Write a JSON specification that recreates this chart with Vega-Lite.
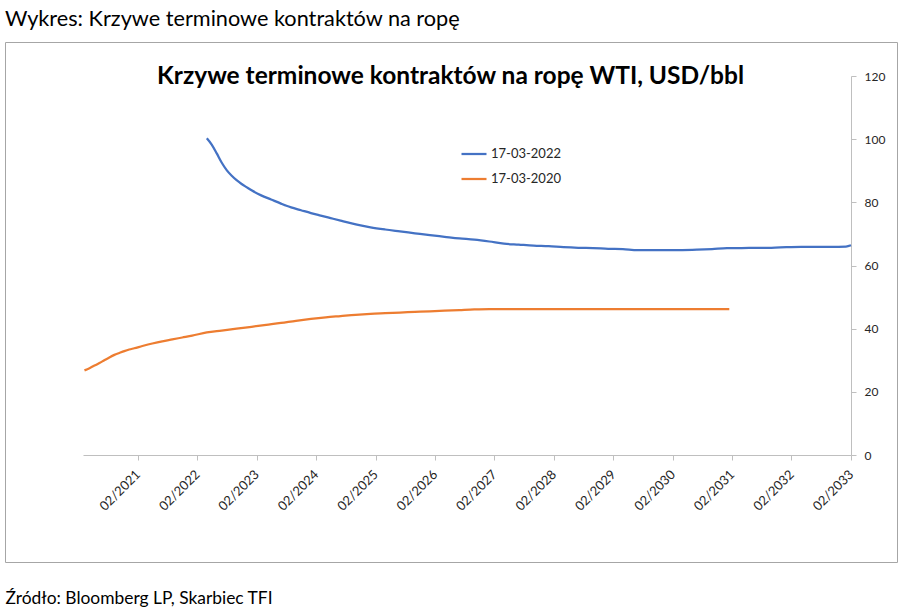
{
  "$schema": "https://vega.github.io/schema/vega-lite/v6.json",
  "autosize": {"type": "none"},
  "width": 892,
  "height": 520,
  "padding": {"left": 5, "top": 42, "right": 12, "bottom": 51},
  "background": "white",
  "title": {
    "text": "Wykres: Krzywe terminowe kontraktów na ropę",
    "anchor": "start",
    "frame": "group",
    "font": "Lato",
    "fontSize": 21.7,
    "fontWeight": "normal",
    "color": "#000000",
    "offset": 11
  },
  "config": {
    "view": {"stroke": "#a6a6a6", "strokeWidth": 1},
    "font": "Lato"
  },
  "data": {
    "values": [
      {"series": "17-03-2022", "date": "2022-04-01", "price": 100.3},
      {"series": "17-03-2022", "date": "2022-05-01", "price": 98.3},
      {"series": "17-03-2022", "date": "2022-06-01", "price": 95.5},
      {"series": "17-03-2022", "date": "2022-07-01", "price": 92.6},
      {"series": "17-03-2022", "date": "2022-08-01", "price": 90.2},
      {"series": "17-03-2022", "date": "2022-09-01", "price": 88.4},
      {"series": "17-03-2022", "date": "2022-10-01", "price": 87.0},
      {"series": "17-03-2022", "date": "2022-11-01", "price": 85.8},
      {"series": "17-03-2022", "date": "2022-12-01", "price": 84.8},
      {"series": "17-03-2022", "date": "2023-01-01", "price": 83.8},
      {"series": "17-03-2022", "date": "2023-03-01", "price": 82.2},
      {"series": "17-03-2022", "date": "2023-05-01", "price": 80.9},
      {"series": "17-03-2022", "date": "2023-07-01", "price": 79.6},
      {"series": "17-03-2022", "date": "2023-09-01", "price": 78.4},
      {"series": "17-03-2022", "date": "2023-11-01", "price": 77.5},
      {"series": "17-03-2022", "date": "2024-01-01", "price": 76.6},
      {"series": "17-03-2022", "date": "2024-03-01", "price": 75.8},
      {"series": "17-03-2022", "date": "2024-05-01", "price": 75.0},
      {"series": "17-03-2022", "date": "2024-07-01", "price": 74.2},
      {"series": "17-03-2022", "date": "2024-09-01", "price": 73.4},
      {"series": "17-03-2022", "date": "2024-11-01", "price": 72.7},
      {"series": "17-03-2022", "date": "2025-01-01", "price": 72.1},
      {"series": "17-03-2022", "date": "2025-04-01", "price": 71.4},
      {"series": "17-03-2022", "date": "2025-07-01", "price": 70.8},
      {"series": "17-03-2022", "date": "2025-10-01", "price": 70.2},
      {"series": "17-03-2022", "date": "2026-01-01", "price": 69.6},
      {"series": "17-03-2022", "date": "2026-04-01", "price": 69.1},
      {"series": "17-03-2022", "date": "2026-07-01", "price": 68.6},
      {"series": "17-03-2022", "date": "2026-10-01", "price": 68.2},
      {"series": "17-03-2022", "date": "2027-01-01", "price": 67.6},
      {"series": "17-03-2022", "date": "2027-04-01", "price": 66.9},
      {"series": "17-03-2022", "date": "2027-07-01", "price": 66.6},
      {"series": "17-03-2022", "date": "2027-10-01", "price": 66.3},
      {"series": "17-03-2022", "date": "2028-01-01", "price": 66.1},
      {"series": "17-03-2022", "date": "2028-04-01", "price": 65.8},
      {"series": "17-03-2022", "date": "2028-07-01", "price": 65.6},
      {"series": "17-03-2022", "date": "2028-10-01", "price": 65.5},
      {"series": "17-03-2022", "date": "2029-01-01", "price": 65.3},
      {"series": "17-03-2022", "date": "2029-04-01", "price": 65.2},
      {"series": "17-03-2022", "date": "2029-07-01", "price": 64.9},
      {"series": "17-03-2022", "date": "2029-10-01", "price": 64.9},
      {"series": "17-03-2022", "date": "2030-01-01", "price": 64.9},
      {"series": "17-03-2022", "date": "2030-04-01", "price": 64.9},
      {"series": "17-03-2022", "date": "2030-07-01", "price": 65.0},
      {"series": "17-03-2022", "date": "2030-10-01", "price": 65.2},
      {"series": "17-03-2022", "date": "2031-01-01", "price": 65.5},
      {"series": "17-03-2022", "date": "2031-04-01", "price": 65.5},
      {"series": "17-03-2022", "date": "2031-07-01", "price": 65.6},
      {"series": "17-03-2022", "date": "2031-10-01", "price": 65.6},
      {"series": "17-03-2022", "date": "2032-01-01", "price": 65.8},
      {"series": "17-03-2022", "date": "2032-04-01", "price": 65.9},
      {"series": "17-03-2022", "date": "2032-07-01", "price": 65.9},
      {"series": "17-03-2022", "date": "2032-10-01", "price": 65.9},
      {"series": "17-03-2022", "date": "2033-01-01", "price": 66.0},
      {"series": "17-03-2022", "date": "2033-02-01", "price": 66.4},
      {"series": "17-03-2020", "date": "2020-03-10", "price": 26.8},
      {"series": "17-03-2020", "date": "2020-04-10", "price": 27.5},
      {"series": "17-03-2020", "date": "2020-05-10", "price": 28.3},
      {"series": "17-03-2020", "date": "2020-06-10", "price": 29.1},
      {"series": "17-03-2020", "date": "2020-07-10", "price": 30.0},
      {"series": "17-03-2020", "date": "2020-08-10", "price": 30.9},
      {"series": "17-03-2020", "date": "2020-09-10", "price": 31.7},
      {"series": "17-03-2020", "date": "2020-10-10", "price": 32.3},
      {"series": "17-03-2020", "date": "2020-11-10", "price": 32.9},
      {"series": "17-03-2020", "date": "2020-12-10", "price": 33.4},
      {"series": "17-03-2020", "date": "2021-01-10", "price": 33.8},
      {"series": "17-03-2020", "date": "2021-03-01", "price": 34.5},
      {"series": "17-03-2020", "date": "2021-05-01", "price": 35.3},
      {"series": "17-03-2020", "date": "2021-07-01", "price": 36.0},
      {"series": "17-03-2020", "date": "2021-09-01", "price": 36.6},
      {"series": "17-03-2020", "date": "2021-11-01", "price": 37.2},
      {"series": "17-03-2020", "date": "2022-01-01", "price": 37.8},
      {"series": "17-03-2020", "date": "2022-04-01", "price": 38.8},
      {"series": "17-03-2020", "date": "2022-07-01", "price": 39.4},
      {"series": "17-03-2020", "date": "2022-10-01", "price": 40.0},
      {"series": "17-03-2020", "date": "2023-01-01", "price": 40.6},
      {"series": "17-03-2020", "date": "2023-04-01", "price": 41.2},
      {"series": "17-03-2020", "date": "2023-07-01", "price": 41.8},
      {"series": "17-03-2020", "date": "2023-10-01", "price": 42.5},
      {"series": "17-03-2020", "date": "2024-01-01", "price": 43.1},
      {"series": "17-03-2020", "date": "2024-04-01", "price": 43.6},
      {"series": "17-03-2020", "date": "2024-07-01", "price": 44.0},
      {"series": "17-03-2020", "date": "2024-10-01", "price": 44.4},
      {"series": "17-03-2020", "date": "2025-01-01", "price": 44.7},
      {"series": "17-03-2020", "date": "2025-04-01", "price": 44.9},
      {"series": "17-03-2020", "date": "2025-07-01", "price": 45.1},
      {"series": "17-03-2020", "date": "2025-10-01", "price": 45.3},
      {"series": "17-03-2020", "date": "2026-01-01", "price": 45.5},
      {"series": "17-03-2020", "date": "2026-04-01", "price": 45.7},
      {"series": "17-03-2020", "date": "2026-07-01", "price": 45.9},
      {"series": "17-03-2020", "date": "2026-10-01", "price": 46.1},
      {"series": "17-03-2020", "date": "2027-01-01", "price": 46.2},
      {"series": "17-03-2020", "date": "2028-01-01", "price": 46.2},
      {"series": "17-03-2020", "date": "2029-01-01", "price": 46.2},
      {"series": "17-03-2020", "date": "2030-01-01", "price": 46.2},
      {"series": "17-03-2020", "date": "2031-01-15", "price": 46.2}
    ]
  },
  "mark": {"type": "line", "strokeWidth": 2.25, "interpolate": "monotone"},
  "encoding": {
    "x": {
      "field": "date",
      "type": "temporal",
      "scale": {
        "type": "utc",
        "domain": [
          {"year": 2020, "month": 3, "date": 1, "utc": true},
          {"year": 2033, "month": 2, "date": 1, "utc": true}
        ],
        "range": [78, 846]
      },
      "axis": {
        "orient": "bottom",
        "offset": -107,
        "values": [
          {"year": 2021, "month": 2, "date": 1, "utc": true},
          {"year": 2022, "month": 2, "date": 1, "utc": true},
          {"year": 2023, "month": 2, "date": 1, "utc": true},
          {"year": 2024, "month": 2, "date": 1, "utc": true},
          {"year": 2025, "month": 2, "date": 1, "utc": true},
          {"year": 2026, "month": 2, "date": 1, "utc": true},
          {"year": 2027, "month": 2, "date": 1, "utc": true},
          {"year": 2028, "month": 2, "date": 1, "utc": true},
          {"year": 2029, "month": 2, "date": 1, "utc": true},
          {"year": 2030, "month": 2, "date": 1, "utc": true},
          {"year": 2031, "month": 2, "date": 1, "utc": true},
          {"year": 2032, "month": 2, "date": 1, "utc": true},
          {"year": 2033, "month": 2, "date": 1, "utc": true}
        ],
        "format": "%m/%Y",
        "labelAngle": -45,
        "labelAlign": "right",
        "labelBaseline": "middle",
        "labelFont": "Lato",
        "labelFontSize": 13,
        "labelColor": "#262626",
        "labelPadding": 12,
        "labelFlush": false,
        "labelOverlap": false,
        "tickSize": 5,
        "tickColor": "#bfbfbf",
        "domainColor": "#bfbfbf",
        "grid": false,
        "title": "Źródło: Bloomberg LP, Skarbiec TFI",
        "titleX": 0,
        "titleY": 148,
        "titleAlign": "left",
        "titleAnchor": "start",
        "titleBaseline": "alphabetic",
        "titleAngle": 0,
        "titleFont": "Lato",
        "titleFontSize": 17.4,
        "titleFontWeight": "normal",
        "titleColor": "#000000"
      }
    },
    "y": {
      "field": "price",
      "type": "quantitative",
      "scale": {"domain": [0, 120], "range": [413, 34], "nice": false, "zero": true},
      "axis": {
        "orient": "right",
        "offset": -46,
        "values": [0, 20, 40, 60, 80, 100, 120],
        "labelAlign": "left",
        "labelBaseline": "middle",
        "labelFont": "Lato",
        "labelFontSize": 12,
        "labelColor": "#262626",
        "labelPadding": 8,
        "tickSize": 5,
        "tickColor": "#bfbfbf",
        "domainColor": "#bfbfbf",
        "grid": false,
        "title": "Krzywe terminowe kontraktów na ropę WTI, USD/bbl",
        "titleAngle": 0,
        "titleX": -401,
        "titleY": 41,
        "titleAlign": "center",
        "titleBaseline": "alphabetic",
        "titleFont": "Lato",
        "titleFontSize": 24.5,
        "titleFontWeight": "bold",
        "titleColor": "#000000"
      }
    },
    "color": {
      "field": "series",
      "type": "nominal",
      "scale": {"domain": ["17-03-2022", "17-03-2020"], "range": ["#4472C4", "#ED7D31"]},
      "legend": {
        "orient": "none",
        "legendX": 455,
        "legendY": 98,
        "title": null,
        "padding": 0,
        "symbolType": "stroke",
        "symbolSize": 625,
        "symbolStrokeWidth": 2.25,
        "labelOffset": 3,
        "rowPadding": 4,
        "labelFont": "Lato",
        "labelFontSize": 13,
        "labelColor": "#262626"
      }
    }
  }
}
